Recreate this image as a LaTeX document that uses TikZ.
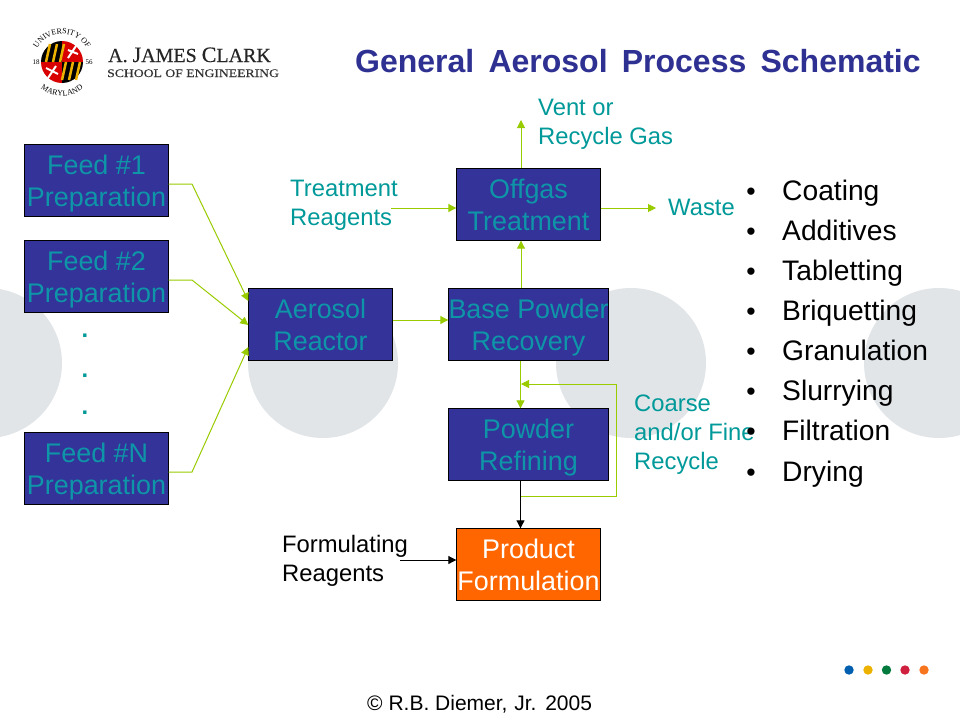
\documentclass[tikz,border=0pt]{standalone}
\usepackage{fontspec}
\usepackage{tikz}
\usepackage{xcolor}
\usetikzlibrary{arrows.meta,decorations.text}
\setmainfont{Liberation Sans}
\newfontfamily\logofont{Liberation Serif}
\newfontfamily\logoname[FakeBold=0.4]{Liberation Serif}
\newfontfamily\logowide[FakeStretch=1.19,FakeBold=0.4]{Liberation Serif}
\newcommand{\twolines}[2]{#1\vphantom{P}\\\raisebox{0pt}[\height][0pt]{#2}}

\begin{document}
\begin{tikzpicture}[x=1pt, y=-1pt, >={Triangle[length=8pt,width=8pt]}]

        % Define colors matching the slide theme
        \definecolor{slideblue}{RGB}{51, 51, 153}
        \definecolor{slideteal}{RGB}{0, 153, 153}
        \definecolor{boxteal}{RGB}{14, 150, 168}
        \definecolor{slidegreen}{RGB}{153, 204, 0}
        \definecolor{slidegray}{RGB}{225, 229, 232}
        \definecolor{slideorange}{RGB}{255, 102, 0}
        \definecolor{titleblue}{RGB}{46, 49, 146}
        \definecolor{dotblue}{RGB}{0, 96, 175}
        \definecolor{dotyellow}{RGB}{237, 177, 0}
        \definecolor{dotgreen}{RGB}{0, 122, 61}
        \definecolor{dotred}{RGB}{208, 32, 64}
        \definecolor{dotorange}{RGB}{247, 117, 30}

        \tikzset{
            stepbox/.style={draw=black, fill=slideblue, text=boxteal, inner sep=0pt, minimum height=72pt, minimum width=144pt, align=center, font=\fontsize{26.9}{32}\selectfont},
            widebox/.style={stepbox, minimum width=160pt},
            label/.style={text=slideteal, inner sep=0pt, anchor=west, align=left, font=\fontsize{23.8}{29}\selectfont},
            flow/.style={->, slidegreen, line width=1pt},
            blackflow/.style={->, black, line width=1pt},
            seal/.style={font=\logofont\fontsize{7}{7}\selectfont, text=black}
        }

        \clip (0,0) rectangle (960,720);
        \fill[white] (0,0) rectangle (960,720);

        % Background circles
        \foreach \cx in {-13, 323, 631, 939} {
            \fill[slidegray] (\cx,363) circle (75pt);
        }

        % University seal
        \fill[black!10] (62,62) circle (21pt);
        \fill[black] (62,62) -- (41,62) arc (180:90:21pt) -- cycle;
        \fill[red!85!black] (62,62) -- (62,41) arc (90:0:21pt) -- cycle;
        \fill[red!85!black] (62,62) -- (41,62) arc (180:270:21pt) -- cycle;
        \fill[black] (62,62) -- (83,62) arc (0:-90:21pt) -- cycle;
        \foreach \dx in {-16,-9,-2} {
            \draw[dotyellow, line width=2.5pt] (62+\dx,62) -- (66+\dx,44);
            \draw[dotyellow, line width=2.5pt] (64-\dx,62) -- (60-\dx,80);
        }
        \draw[white, line width=2pt] (68,50) -- (78,54) (68,58) -- (76,46);
        \draw[white, line width=2pt] (46,68) -- (58,74) (48,78) -- (56,66);
        \path[decorate, decoration={text along path, text align=center, text={|\logofont\fontsize{8}{8}\selectfont|UNIVERSITY OF}}]
            (34,62) arc (180:0:28pt);
        \path[decorate, decoration={text along path, text align=center, text={|\logofont\fontsize{8}{8}\selectfont|MARYLAND}}]
            (28,62) arc (180:360:34pt);
        \node[seal] (sealleft) at (36,62) {18};
        \node[seal] (sealright) at (89,62) {56};

        % School name
        \node[inner sep=0pt, anchor=base west, font=\logoname\fontsize{20}{20}\selectfont, text=black!85] (school) at (108,62) {A. {\fontsize{22}{20}\selectfont J}AMES {\fontsize{22}{20}\selectfont C}LARK};
        \node[inner sep=0pt, anchor=base west, font=\logowide\fontsize{11.5}{11}\selectfont, text=black!80] (dept) at (107,77) {SCHOOL OF ENGINEERING};

        % Title
        \node[inner sep=0pt, anchor=base west, text=titleblue, font=\fontsize{32}{36}\selectfont\bfseries] (title) at (355,72) {General\hspace{5.3pt} Aerosol\hspace{5.3pt} Process\hspace{5.3pt} Schematic};

        % Process boxes
        \node[stepbox] (feedone) at (96.5,180.5) {\twolines{Feed \#1}{Preparation}};
        \node[stepbox] (feedtwo) at (96.5,276.5) {\twolines{Feed \#2}{Preparation}};
        \node[stepbox] (feedn) at (96.5,468.5) {\twolines{Feed \#N}{Preparation}};
        \node[stepbox] (reactor) at (320.5,324.5) {\twolines{Aerosol}{Reactor}};
        \node[widebox] (recovery) at (528.5,324.5) {\twolines{Base Powder}{Recovery}};
        \node[stepbox] (offgas) at (528.5,204.5) {\twolines{Offgas}{Treatment}};
        \node[widebox] (refining) at (528.5,444.5) {\twolines{Powder}{Refining}};
        \node[stepbox, fill=slideorange, text=white] (product) at (528.5,564.5) {\twolines{Product}{Formulation}};

        % Dots between the feeds
        \foreach \y [count=\i] in {337, 377, 414} {
            \node[text=slideteal, inner sep=0pt, anchor=base, font=\fontsize{23.8}{29}\selectfont\bfseries] (feeddot\i) at (85,\y) {.};
        }

        % Stream labels
        \node[label] (vent) at (538,124) {Vent or\\Recycle Gas};
        \node[label] (treat) at (290,205) {Treatment\\Reagents};
        \node[label] (waste) at (668,207) {Waste};
        \node[label] (recycle) at (634,434.5) {Coarse\\and/or Fine\\Recycle};
        \node[label, text=black] (formul) at (282,561) {Formulating\\Reagents};

        % Free ends of the connectors
        \coordinate (ventend) at (521,120);
        \coordinate (treatend) at (391,208);
        \coordinate (wasteend) at (656,208);
        \coordinate (formulend) at (400,560);
        \coordinate (recyclea) at (520,496);
        \coordinate (recycleb) at (616,496);
        \coordinate (recyclec) at (616,384);
        \coordinate (recycled) at (521,384);

        % Feed lines into the reactor
        \draw[flow] ([yshift=-3.5pt]feedone.east) -- (192,184) -- ([yshift=23.5pt]reactor.west);
        \draw[flow] ([yshift=-3.5pt]feedtwo.east) -- (192,280) -- ([yshift=-0.5pt]reactor.west);
        \draw[flow] ([yshift=-3.5pt]feedn.east) -- (192,472) -- ([yshift=-22.5pt]reactor.west);

        % Main train
        \draw[flow] ([yshift=4.5pt]reactor.east) -- ([yshift=4.5pt]recovery.west);
        \draw[flow] ([xshift=-7.5pt]recovery.north) -- ([xshift=-7.5pt]offgas.south);
        \draw[flow] ([xshift=-7.5pt]offgas.north) -- (ventend);
        \draw[flow] (treatend) -- ([yshift=-3.5pt]offgas.west);
        \draw[flow] ([yshift=-3.5pt]offgas.east) -- (wasteend);
        \draw[flow] ([xshift=-8pt]recovery.south) -- ([xshift=-8pt]refining.north);

        % Recycle loop
        \draw[flow] (recyclea) -- (recycleb) -- (recyclec) -- (recycled);

        % Black streams
        \draw[blackflow] ([xshift=-8pt]refining.south) -- ([xshift=-8pt]product.north);
        \draw[blackflow] (formulend) -- ([yshift=4.5pt]product.west);

        % Bullet list
        \foreach \item [count=\i from 0] in {Coating, Additives, Tabletting, Briquetting, Granulation, Slurrying, Filtration, Drying} {
            \node[inner sep=0pt, anchor=base, font=\fontsize{26.7}{32}\selectfont] (bullet\i) at (751,200+40.15*\i) {\textbullet};
            \node[inner sep=0pt, anchor=base west, font=\fontsize{28.2}{32}\selectfont] (item\i) at (782,200+40.15*\i) {\item};
        }

        % Colored dots
        \foreach \x/\dotcolor in {849/dotblue, 868/dotyellow, 886.5/dotgreen, 905/dotred, 924/dotorange} {
            \fill[\dotcolor] (\x,670) circle (4.7pt);
        }

        % Copyright
        \node[inner sep=0pt, anchor=base west, font=\fontsize{21}{24}\selectfont] (copyright) at (367,710) {© R.B.\ Diemer,\hspace{1pt} Jr.\hspace{1pt} 2005};

    \end{tikzpicture}
\end{document}
